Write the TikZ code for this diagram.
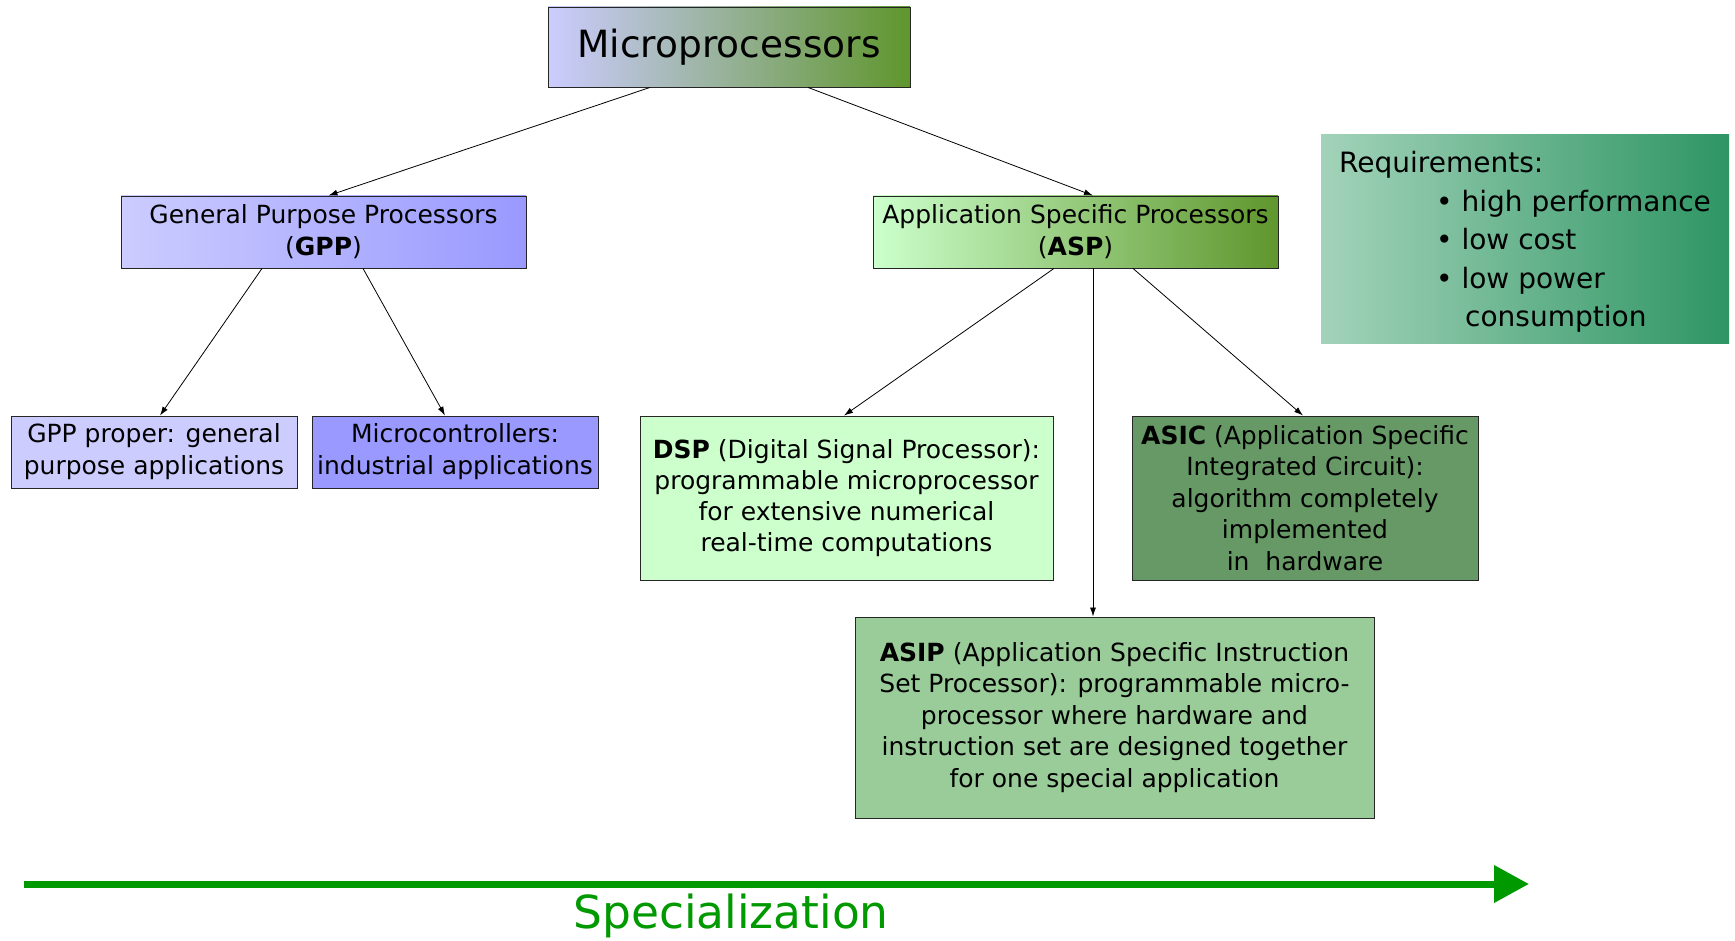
\documentclass[tikz,border=0pt]{standalone}
\usepackage{fontspec}
\setmainfont{DejaVu Sans}
\usetikzlibrary{arrows.meta,calc}
\definecolor{lav}{RGB}{204,204,255}
\definecolor{lavdark}{RGB}{153,153,255}
\definecolor{mint}{RGB}{204,255,204}
\definecolor{olive}{RGB}{95,150,45}
\definecolor{sage}{RGB}{153,204,153}
\definecolor{fern}{RGB}{102,153,102}
\definecolor{reqleft}{RGB}{163,211,186}
\definecolor{reqright}{RGB}{46,149,99}
\definecolor{specgreen}{RGB}{0,153,0}
\begin{document}
\begin{tikzpicture}[x=1pt,y=-1pt,
  box/.style={draw=black!85, line width=0.9pt, inner sep=0pt, align=center,
    font=\fontsize{25}{32}\selectfont},
  link/.style={-{Latex[length=9pt,width=6pt]}, line width=0.8pt}]
\useasboundingbox (0,0) rectangle (1735,941);

% top level
\node[box, left color=lav, right color=olive, minimum width=362pt, minimum height=80pt,
  font=\fontsize{37.5}{45}\selectfont] (micro) at (729,47) {Microprocessors};

% second level
\node[box, left color=lav, right color=lavdark, minimum width=405pt, minimum height=72pt]
  (gpp) at (323.5,232) {General Purpose Processors\\(\textbf{GPP})};
\node[box, left color=mint, right color=olive, minimum width=405pt, minimum height=72pt]
  (asp) at (1075.5,232) {Application Specific Processors\\(\textbf{ASP})};

% requirements panel (strut on the first line lowers the text block a little)
\node[left color=reqleft, right color=reqright, minimum width=408pt, minimum height=209pt,
  inner sep=0pt, align=left, font=\fontsize{28}{38.5}\selectfont]
  (req) at (1525,239) {\rule{0pt}{27pt}Requirements:\\
  \hspace*{97pt}• high performance\\
  \hspace*{97pt}• low cost\\
  \hspace*{97pt}• low power\\
  \hspace*{126pt}consumption};

% third level
\node[box, fill=lav, minimum width=286pt, minimum height=72pt]
  (gppp) at (154,452) {GPP proper: general\\purpose applications};
\node[box, fill=lavdark, minimum width=286pt, minimum height=72pt]
  (mcu) at (455,452) {Microcontrollers:\\industrial applications};
\node[box, fill=mint, minimum width=413pt, minimum height=164pt, font=\fontsize{25}{31}\selectfont]
  (dsp) at (846.5,498) {\textbf{DSP} (Digital Signal Processor):\\programmable microprocessor\\for extensive numerical\\real-time computations};
\node[box, fill=fern, minimum width=346pt, minimum height=164pt, font=\fontsize{25}{31.5}\selectfont]
  (asic) at (1305,498) {\textbf{ASIC} (Application Specific\\Integrated Circuit):\\algorithm completely\\implemented\\in\ \ hardware};
\node[box, fill=sage, minimum width=519pt, minimum height=201pt, font=\fontsize{25}{31.5}\selectfont]
  (asip) at (1114.5,717.5) {\textbf{ASIP} (Application Specific Instruction\\Set Processor): programmable micro-\\processor where hardware and\\instruction set are designed together\\for one special application};

% connectors
\draw[link] ([xshift=-79pt]micro.south) -- ([xshift=5pt]gpp.north);
\draw[link] ([xshift=79pt]micro.south) -- ([xshift=17.5pt]asp.north);
\draw[link] ([xshift=-61.5pt]gpp.south) -- ([xshift=6pt]gppp.north);
\draw[link] ([xshift=39.5pt]gpp.south) -- ([xshift=-10pt]mcu.north);
\draw[link] ([xshift=-21.5pt]asp.south) -- ([xshift=-2.5pt]dsp.north);
\draw[link] ([xshift=17.5pt]asp.south) -- ([xshift=17.5pt]asp.south |- asip.north);
\draw[link] ([xshift=57.5pt]asp.south) -- ([xshift=-2pt]asic.north);

% specialization axis
\coordinate (sl) at (24,884);
\coordinate (sr) at (1529,884);
\draw[specgreen, line width=7pt, -{Triangle[length=35pt,width=36pt]}] (sl) -- (sr);
\node[text=specgreen, font=\fontsize{45.5}{54}\selectfont, inner sep=0pt] (spec) at (731,916) {Specialization};
\end{tikzpicture}
\end{document}
